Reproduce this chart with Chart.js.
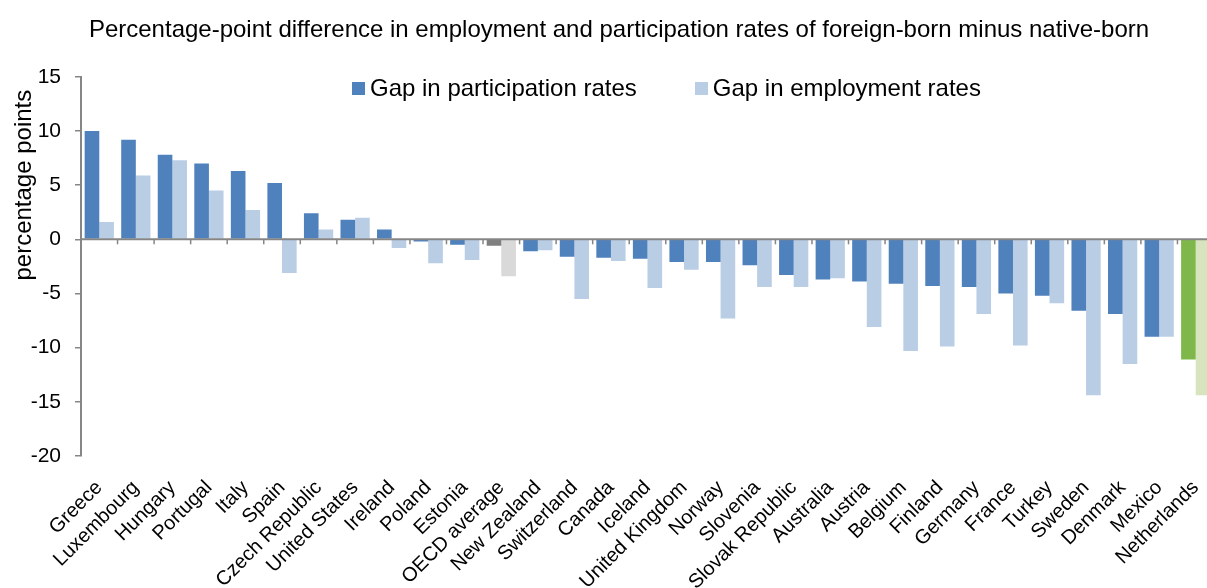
<!DOCTYPE html>
<html lang="en">
<head>
    <meta charset="UTF-8">
    <title>Foreign-born vs native-born gaps</title>
    <script src="https://cdn.jsdelivr.net/npm/chart.js"></script>
    <style>
        body { margin: 0; background: #fff; font-family: "Liberation Sans", Arial, sans-serif; overflow: hidden; }
        #wrap { position: relative; width: 1207px; height: 588px; overflow: hidden; }
        #legend { position: absolute; top: 74px; left: 352px; display: flex; font-size: 24px; line-height: 28px; color: #000; }
        #legend span.item { display: flex; align-items: center; margin-right: 58px; }
        #legend span.box { width: 13px; height: 13px; margin-right: 5px; display: inline-block; }
    </style>
</head>
<body>
    <div id="wrap">
        <!-- canvas a bit wider than the window: the original plot is cut off at the right edge -->
        <canvas id="gapChart" width="1214" height="588"></canvas>
        <div id="legend"></div>
    </div>

    <script>
        const countries = ['Greece', 'Luxembourg', 'Hungary', 'Portugal', 'Italy', 'Spain', 'Czech Republic',
            'United States', 'Ireland', 'Poland', 'Estonia', 'OECD average', 'New Zealand', 'Switzerland',
            'Canada', 'Iceland', 'United Kingdom', 'Norway', 'Slovenia', 'Slovak Republic', 'Australia',
            'Austria', 'Belgium', 'Finland', 'Germany', 'France', 'Turkey', 'Sweden', 'Denmark', 'Mexico',
            'Netherlands'];
        const participationGap = [10.0, 9.2, 7.8, 7.0, 6.3, 5.2, 2.4, 1.8, 0.9, -0.2, -0.5, -0.6, -1.1, -1.6,
            -1.7, -1.8, -2.1, -2.1, -2.4, -3.3, -3.7, -3.9, -4.1, -4.3, -4.4, -5.0, -5.2, -6.6, -6.9, -9.0, -11.1];
        const employmentGap = [1.6, 5.9, 7.3, 4.5, 2.7, -3.1, 0.9, 2.0, -0.8, -2.2, -1.9, -3.4, -1.0, -5.5,
            -2.0, -4.5, -2.8, -7.3, -4.4, -4.4, -3.6, -8.1, -10.3, -9.9, -6.9, -9.8, -5.9, -14.4, -11.5, -9.0, -14.4];
        const seriesNames = ['Gap in participation rates', 'Gap in employment rates'];
        const yTicks = [15, 10, 5, 0, -5, -10, -15, -20];

        const FONT = '"Liberation Sans", Arial, sans-serif';
        const AXIS_GREY = '#868686';
        const baseColors = ['#4F81BD', '#B9CDE5'];

        // OECD average in grey, Netherlands in green
        function colorsFor(series) {
            return countries.map(c => {
                if (c === 'OECD average') return series === 0 ? '#7F7F7F' : '#D9D9D9';
                if (c === 'Netherlands') return series === 0 ? '#7FB74A' : '#D7E4BD';
                return baseColors[series];
            });
        }

        // zero line with small category ticks, plus the y title sitting a bit high like the original
        const zeroAxis = {
            id: 'zeroAxis',
            afterDatasetsDraw(chart) {
                const { ctx, chartArea, scales } = chart;
                const y0 = scales.y.getPixelForValue(0);
                ctx.save();
                ctx.strokeStyle = AXIS_GREY;
                ctx.lineWidth = 2;
                ctx.beginPath();
                ctx.moveTo(chartArea.left, y0);
                ctx.lineTo(chartArea.right, y0);
                ctx.stroke();
                ctx.lineWidth = 1.5;
                for (let i = 1; i < countries.length; i++) {
                    const xb = (scales.x.getPixelForValue(i - 1) + scales.x.getPixelForValue(i)) / 2;
                    ctx.beginPath();
                    ctx.moveTo(xb, y0);
                    ctx.lineTo(xb, y0 + 5);
                    ctx.stroke();
                }

                ctx.translate(scales.y.left, scales.y.getPixelForValue(5));
                ctx.rotate(-Math.PI / 2);
                ctx.fillStyle = '#000';
                ctx.font = '24px ' + FONT;
                ctx.textAlign = 'center';
                ctx.textBaseline = 'middle';
                ctx.fillText('percentage points', 0, 0);
                ctx.restore();
            }
        };

        const chart = new Chart(document.getElementById('gapChart'), {
            type: 'bar',
            data: {
                labels: countries,
                datasets: [
                    { label: seriesNames[0], data: participationGap, backgroundColor: colorsFor(0) },
                    { label: seriesNames[1], data: employmentGap, backgroundColor: colorsFor(1) }
                ]
            },
            options: {
                responsive: false,
                animation: false,
                layout: { padding: { left: 24, right: 0, top: 0, bottom: 0 } },
                datasets: { bar: { categoryPercentage: 0.8, barPercentage: 1.0 } },
                plugins: {
                    legend: { display: false },
                    tooltip: { enabled: false },
                    title: {
                        display: true,
                        text: 'Percentage-point difference in employment and participation rates of foreign-born minus native-born',
                        color: '#000',
                        font: { family: FONT, size: 24, weight: 'normal' },
                        padding: { top: 16, bottom: 32 }
                    }
                },
                scales: {
                    x: {
                        afterFit(axis) {
                            axis.height = 132;
                            axis.paddingRight = 0;   // let the bars run right up to the edge
                        },
                        grid: { display: false },
                        border: { display: false },
                        ticks: {
                            color: '#000',
                            font: { family: FONT, size: 20 },
                            minRotation: 45,
                            maxRotation: 45,
                            autoSkip: false,
                            padding: 12
                        }
                    },
                    y: {
                        min: -20,
                        max: 15,
                        afterBuildTicks(axis) { axis.ticks = yTicks.map(v => ({ value: v })); },
                        afterFit(axis) { axis.width = 57; },
                        grid: { drawOnChartArea: false, drawTicks: true, tickLength: 6, color: AXIS_GREY, lineWidth: 1.5 },
                        border: { color: AXIS_GREY, width: 2 },
                        ticks: { color: '#000', font: { family: FONT, size: 21 }, padding: 14 }
                    }
                }
            },
            plugins: [zeroAxis]
        });

        // legend as real text, built from the dataset names and colours
        const legend = document.getElementById('legend');
        seriesNames.forEach((name, i) => {
            const item = document.createElement('span');
            item.className = 'item';
            item.innerHTML = '<span class="box" style="background:' + baseColors[i] + '"></span>' + name;
            legend.appendChild(item);
        });
    </script>
</body>
</html>
